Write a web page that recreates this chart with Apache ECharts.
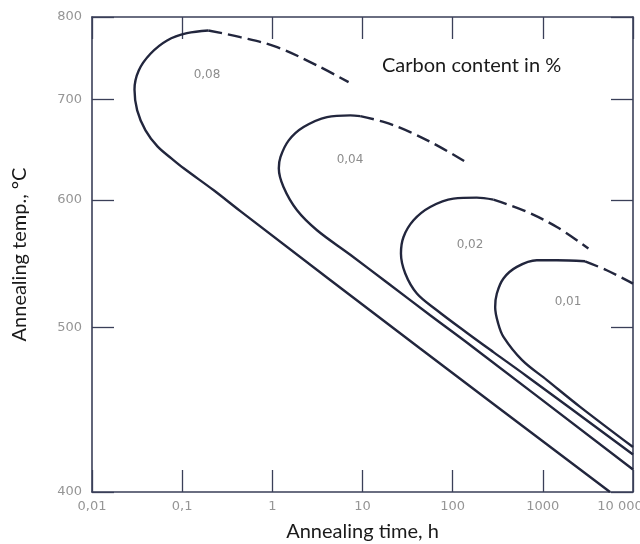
<!DOCTYPE html>
<html>
<head>
<meta charset="utf-8">
<title>Annealing time vs temperature</title>
<script src="https://cdn.jsdelivr.net/npm/echarts@6/dist/echarts.min.js"></script>
<style>
  html, body { margin: 0; padding: 0; background: #fff; }
  #chart { width: 640px; height: 544px; }
</style>
</head>
<body>
<div id="chart"></div>
<script>
// tick values
var xTicks = [0.01, 0.1, 1, 10, 100, 1000, 10000];
var xTickLabels = ['0,01', '0,1', '1', '10', '100', '1000', '10 000'];
var yTicks = [400, 500, 600, 700, 800];

// curves: [annealing time h, temperature °C]
var c08Solid = [[5560, 400], [43.6, 485.4], [0.442, 590.3], [0.224, 608.8], [0.104, 629.2], [0.0760, 638.7],
    [0.0532, 650.5], [0.0392, 666.7], [0.0317, 687.7], [0.0296, 710.8], [0.0330, 732.7], [0.0445, 752.8],
    [0.0681, 769.4], [0.113, 778.7], [0.195, 782.2]];
var c08Dash = [[0.195, 782.2], [0.442, 773.6], [1.13, 761.0], [3.13, 738.7], [7.01, 719.1]];

var c04Solid = [[10000, 412.1], [160, 487.3], [56.3, 508.4], [18.7, 532.4], [7.32, 554.0], [3.13, 574.0],
    [1.88, 591.0], [1.33, 611.8], [1.18, 629.2], [1.23, 640.0], [1.52, 656.5], [2.22, 670.1],
    [4.04, 680.6], [7.32, 682.4], [9.44, 681.6]];
var c04Dash = [[9.44, 681.6], [17.9, 675.0], [33.8, 664.9], [72.7, 649.8], [134, 636.1]];

var c02Solid = [[10000, 420.4], [664, 467.3], [283, 483.0], [141, 496.5], [66.8, 512.0], [40.1, 524.2],
    [29.8, 539.3], [26.7, 554.9], [28.5, 568.4], [36.8, 582.4], [56.3, 593.9], [102, 601.3],
    [185, 602.2], [283, 600.4]];
var c02Dash = [[283, 600.4], [609, 591.0], [1430, 576.7], [3200, 559.0]];

var c01Solid = [[10000, 424.6], [2590, 448.2], [1110, 464.8], [589, 477.7], [366, 493.3], [319, 502.8],
    [296, 514.2], [309, 524.2], [366, 535.5], [515, 544.4], [857, 549.6], [1430, 549.6], [2940, 548.8]];
var c01Dash = [[2940, 548.8], [5110, 541.8], [10000, 531.6]];

// temperature axis is drawn in 1/T (absolute temperature)
function toAxis(t) { return -1000 / (t + 273); }
function fromAxis(v) { return -1000 / v - 273; }

var lineColor = '#22263d';
var axisColor = '#3a3f58';
var tickGrey = '#959595';

function curve(data, dashed) {
    return {
        type: 'line',
        data: data.map(function (p) { return [p[0], toAxis(p[1])]; }),
        smooth: 0.35,
        symbol: 'none',
        lineStyle: { color: lineColor, width: 2.4, type: dashed ? [14, 6] : 'solid' },
        silent: true
    };
}

function curveLabel(text, x, y) {
    return {
        type: 'text', x: x, y: y,
        style: { text: text, font: '12px "DejaVu Sans"', fill: '#8d8d8d', align: 'center', verticalAlign: 'middle' }
    };
}

var tickStyle = { inside: true, length: 22, lineStyle: { color: axisColor, width: 1.3 } };

var myChart = echarts.init(document.getElementById('chart'));
var option = {
    animation: false,
    backgroundColor: '#fff',
    grid: { left: 92, right: 7, top: 17, bottom: 52, containLabel: false, outerBoundsMode: 'none' },
    xAxis: [{
        type: 'log',
        logBase: 10,
        min: xTicks[0],
        max: xTicks[xTicks.length - 1],
        position: 'bottom',
        name: 'Annealing time, h',
        nameLocation: 'middle',
        nameGap: 30,
        nameTextStyle: { fontFamily: 'Lato', fontSize: 20, color: '#1a1a1a' },
        axisLine: { onZero: false, lineStyle: { color: axisColor, width: 1.6 } },
        axisTick: tickStyle,
        axisLabel: {
            margin: 8,
            fontFamily: 'DejaVu Sans',
            fontSize: 13,
            color: tickGrey,
            hideOverlap: false,
            formatter: function (v) {
                var i = Math.round(Math.log(v) / Math.LN10) + 2;
                if (i === xTickLabels.length - 1) return '{last|' + xTickLabels[i] + '}';
                return xTickLabels[i];
            },
            rich: {
                last: { fontFamily: 'DejaVu Sans', fontSize: 13, color: tickGrey, padding: [0, 26, 0, 0] }
            }
        },
        splitLine: { show: false },
        minorTick: { show: false }
    }, {
        type: 'log',
        logBase: 10,
        min: xTicks[0],
        max: xTicks[xTicks.length - 1],
        position: 'top',
        axisLine: { onZero: false, lineStyle: { color: axisColor, width: 1.6 } },
        axisTick: tickStyle,
        axisLabel: { show: false },
        splitLine: { show: false }
    }],
    yAxis: [{
        type: 'value',
        min: toAxis(yTicks[0]),
        max: toAxis(yTicks[yTicks.length - 1]),
        position: 'left',
        name: 'Annealing temp., °C',
        nameLocation: 'middle',
        nameGap: 62,
        nameTextStyle: { fontFamily: 'Lato', fontSize: 20, color: '#1a1a1a' },
        axisLine: { onZero: false, lineStyle: { color: axisColor, width: 1.6 } },
        axisTick: Object.assign({ customValues: yTicks.map(toAxis) }, tickStyle),
        axisLabel: {
            customValues: yTicks.map(toAxis),
            margin: 10,
            fontFamily: 'DejaVu Sans',
            fontSize: 13,
            color: tickGrey,
            formatter: function (v) { return String(Math.round(fromAxis(v))); }
        },
        splitLine: { show: false }
    }, {
        type: 'value',
        min: toAxis(yTicks[0]),
        max: toAxis(yTicks[yTicks.length - 1]),
        position: 'right',
        axisLine: { onZero: false, lineStyle: { color: axisColor, width: 1.6 } },
        axisTick: Object.assign({ customValues: yTicks.map(toAxis) }, tickStyle),
        axisLabel: { show: false },
        splitLine: { show: false }
    }],
    graphic: [
        { type: 'text', left: 382, top: 56, style: { text: 'Carbon content in %', font: '20px Lato', fill: '#1a1a1a' } },
        curveLabel('0,08', 207, 75),
        curveLabel('0,04', 350, 160),
        curveLabel('0,02', 470, 245),
        curveLabel('0,01', 568, 302)
    ],
    series: [
        curve(c08Solid, false), curve(c08Dash, true),
        curve(c04Solid, false), curve(c04Dash, true),
        curve(c02Solid, false), curve(c02Dash, true),
        curve(c01Solid, false), curve(c01Dash, true)
    ]
};
myChart.setOption(option);
</script>
</body>
</html>
